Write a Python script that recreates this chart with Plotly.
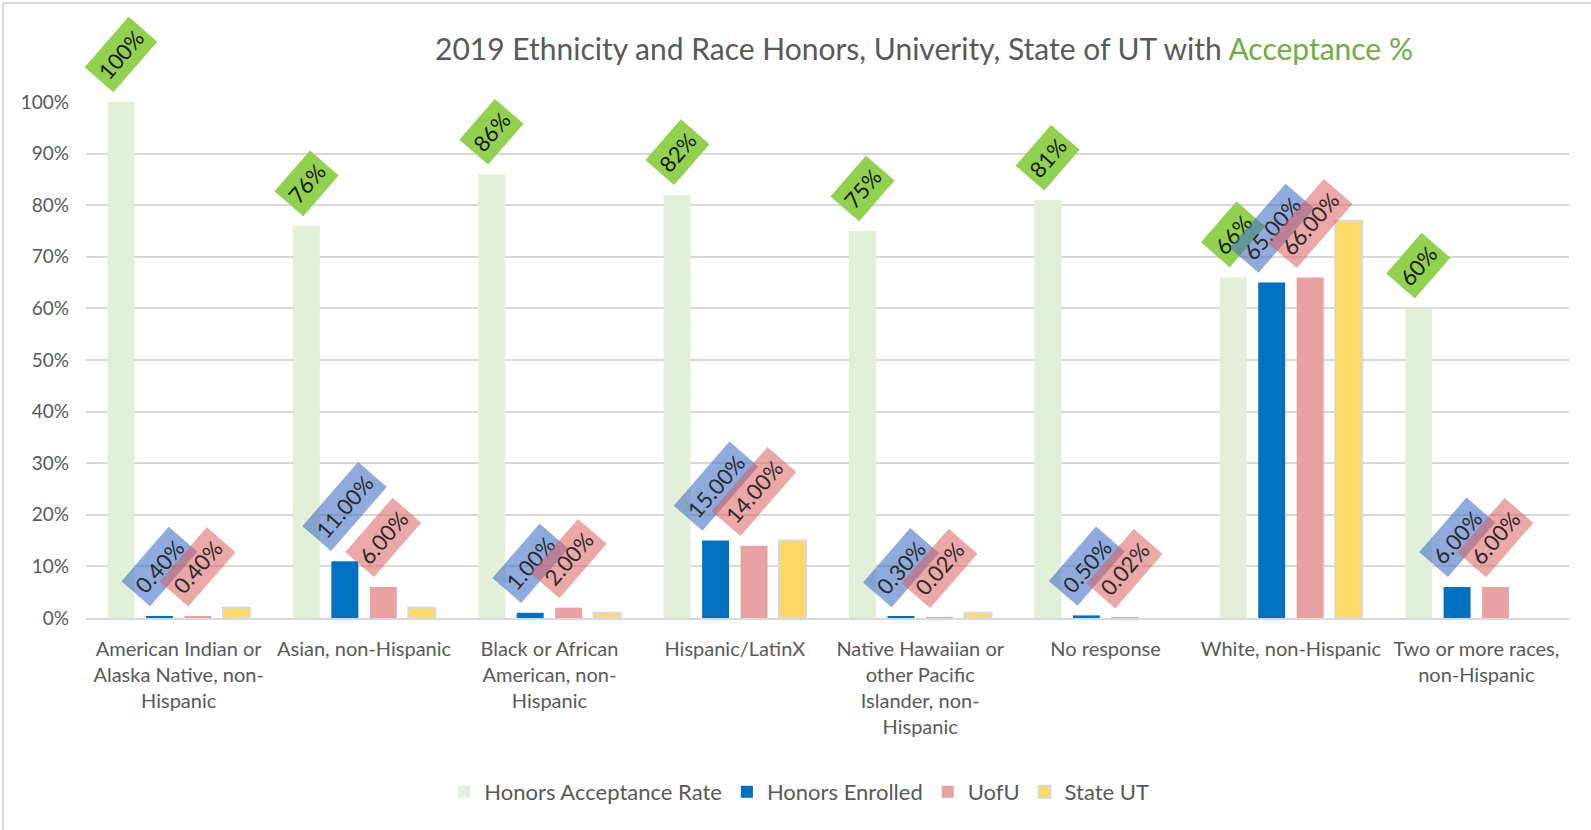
import plotly.graph_objects as go

# ---------------- data ----------------
categories = [
    "American Indian or<br>Alaska Native, non-<br>Hispanic",
    "Asian, non-Hispanic",
    "Black or African<br>American, non-<br>Hispanic",
    "Hispanic/LatinX",
    "Native Hawaiian or<br>other Pacific<br>Islander, non-<br>Hispanic",
    "No response",
    "White, non-Hispanic",
    "Two or more races,<br>non-Hispanic",
]
acceptance_rate = [100, 76, 86, 82, 75, 81, 66, 60]
honors_enrolled = [0.40, 11.00, 1.00, 15.00, 0.30, 0.50, 65.00, 6.00]
uofu = [0.40, 6.00, 2.00, 14.00, 0.02, 0.02, 66.00, 6.00]
state_ut = [2, 2, 1, 15, 1, None, 77, None]
series_names = ["Honors Acceptance Rate", "Honors Enrolled", "UofU", "State UT"]
y_ticks = [0, 10, 20, 30, 40, 50, 60, 70, 80, 90, 100]

# ---------------- style ----------------
FONT = "Lato, 'Open Sans', sans-serif"
TXT = "#595959"
GRID = "#D9D9D9"
BAR_COLORS = ["#E2F0D9", "#0070C0", "#E8A2A2", "#FFD966"]
W, H = 1591, 830
ML, MR, MT, MB = 86, 22, 102, 212
BARGAP, GROUPGAP = 0.17, 0.30
ANGLE = -49

xs = list(range(len(categories)))
series = [acceptance_rate, honors_enrolled, uofu, state_ut]

fig = go.Figure()
for k, (name, vals) in enumerate(zip(series_names, series)):
    line = dict(color=GRID, width=2) if k == 3 else dict(width=0)
    fig.add_trace(go.Bar(
        x=xs, y=vals, name=name,
        marker=dict(color=BAR_COLORS[k], line=line),
        hoverinfo="skip",
    ))

# offsets of each bar within a group (same rule as plotly's grouping)
n = len(series)
slot = (1 - BARGAP) / n
offsets = [-(1 - BARGAP) / 2 + slot * (k + 0.5) for k in range(n)]

annotations = []
label_specs = [
    (0, acceptance_rate, "{:.0f}%", "#92D050", "#1a1a1a"),
    (1, honors_enrolled, "{:.2f}%", "rgba(68,114,196,0.6)", "#2b2b2b"),
    (2, uofu, "{:.2f}%", "rgba(220,95,95,0.55)", "#2b2b2b"),
]
for k, vals, fmt, bg, fc in label_specs:
    for i, v in enumerate(vals):
        annotations.append(dict(
            x=i + offsets[k], y=v, xref="x", yref="y",
            text=fmt.format(v), showarrow=False, textangle=ANGLE,
            xanchor="center", yanchor="bottom", yshift=9,
            bgcolor=bg, borderpad=5,
            font=dict(family=FONT, size=22, color=fc),
        ))

pw = W - ML - MR
ph = H - MT - MB
def px_x(p):
    return (p - ML) / pw
def px_y(p):
    return (H - MB - p) / ph

shapes = [
    dict(type="line", xref="paper", yref="paper", x0=px_x(3), x1=px_x(W), y0=px_y(3), y1=px_y(3),
         line=dict(color=GRID, width=2)),
    dict(type="line", xref="paper", yref="paper", x0=px_x(3), x1=px_x(3), y0=px_y(3), y1=px_y(H),
         line=dict(color=GRID, width=2)),
]

fig.update_layout(
    width=W, height=H,
    margin=dict(l=ML, r=MR, t=MT, b=MB, pad=0),
    paper_bgcolor="white", plot_bgcolor="white",
    barmode="group", bargap=BARGAP, bargroupgap=GROUPGAP,
    font=dict(family=FONT, color=TXT),
    title=dict(
        text="2019 Ethnicity and Race Honors, Univerity, State of UT with "
             "<span style='color:#70AD47'>Acceptance %</span>",
        x=924 / W, xref="container", xanchor="center",
        y=1 - 49 / H, yref="container", yanchor="middle",
        font=dict(family=FONT, size=30, color=TXT),
    ),
    xaxis=dict(
        tickmode="array", tickvals=xs, ticktext=categories,
        range=[-0.5, len(categories) - 0.5],
        showgrid=False, zeroline=False,
        showline=True, linecolor=GRID, linewidth=2,
        ticks="", ticklabelstandoff=12,
        tickfont=dict(family=FONT, size=20, color=TXT),
    ),
    yaxis=dict(
        range=[0, 100], tickmode="array", tickvals=y_ticks,
        ticktext=[f"{t}%" for t in y_ticks],
        showgrid=True, gridcolor=GRID, gridwidth=2,
        zeroline=False, showline=False, ticks="", ticklabelstandoff=16,
        tickfont=dict(family=FONT, size=19, color=TXT),
    ),
    legend=dict(
        orientation="h", x=0.481, xanchor="center",
        y=px_y(792), yanchor="middle",
        font=dict(family=FONT, size=22, color=TXT),
        traceorder="normal",
    ),
    annotations=annotations,
    shapes=shapes,
)

fig.write_html(
    "out.html",
    config={"displayModeBar": False},
    post_script="document.body.style.margin='0px';",
)
